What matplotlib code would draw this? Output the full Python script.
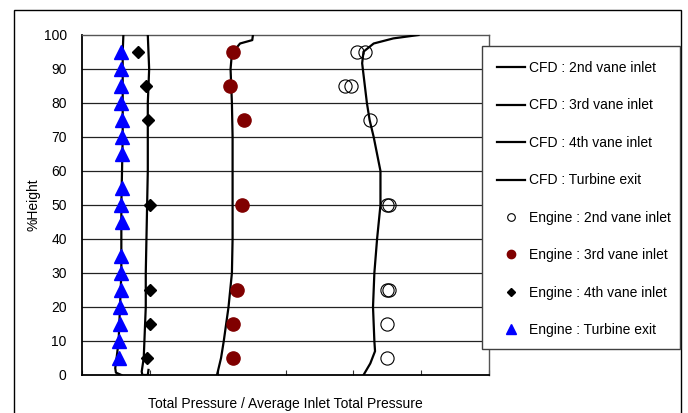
import matplotlib
matplotlib.use("Agg")
import matplotlib.pyplot as plt
from matplotlib.lines import Line2D
from matplotlib.patches import Rectangle

plt.rcParams['font.family'] = ['Liberation Sans', 'DejaVu Sans']

# ---- data (x: total pressure ratio, nominal scale; y: %height) ----
cfd2_x = [1.196, 1.159, 1.130, 1.115, 1.113, 1.114, 1.120, 1.124, 1.130, 1.140, 1.140,
          1.135, 1.131, 1.129, 1.131, 1.132, 1.125, 1.115]
cfd2_y = [100, 99.0, 97.5, 95.1, 91.7, 90, 80, 75, 70, 60, 50, 40, 30, 20, 10, 7, 3.4, 0]

cfd3_x = [0.952, 0.951, 0.933, 0.921, 0.919, 0.921, 0.922, 0.922, 0.922, 0.922, 0.921,
          0.916, 0.909, 0.905, 0.899]
cfd3_y = [100, 98.5, 97.5, 94.6, 90, 80, 70, 60, 50, 40, 30, 20, 10, 5, 0]

cfd4_x = [0.797, 0.798, 0.799, 0.798, 0.797, 0.797, 0.797, 0.796, 0.795, 0.794,
          0.794, 0.792, 0.791, 0.788, 0.789, 0.797, 0.798]
cfd4_y = [100, 95, 90, 85, 80, 70, 60, 50, 40, 30, 20, 10, 5, 1, 0, 0, 1.5]

cfdt_x = [0.761, 0.760, 0.760, 0.760, 0.760, 0.759, 0.758, 0.758, 0.758, 0.756,
          0.754, 0.751, 0.749, 0.750, 0.758]
cfdt_y = [100, 95, 90, 80, 70, 60, 50, 40, 30, 20, 10, 5, 2, 0.7, 0]

eng2_x = [1.105, 1.117, 1.088, 1.096, 1.124, 1.149, 1.153, 1.149, 1.152, 1.149, 1.149]
eng2_y = [95, 95, 85, 85, 75, 50, 50, 25, 25, 15, 5]

eng3_x = [0.923, 0.918, 0.939, 0.936, 0.928, 0.922, 0.922]
eng3_y = [95, 85, 75, 50, 25, 15, 5]

eng4_x = [0.783, 0.795, 0.798, 0.800, 0.800, 0.800, 0.796]
eng4_y = [95, 85, 75, 50, 25, 15, 5]

engt_x = [0.757, 0.757, 0.758, 0.758, 0.759, 0.759, 0.759, 0.759, 0.758, 0.759,
          0.757, 0.757, 0.757, 0.756, 0.756, 0.755, 0.755]
engt_y = [95, 90, 85, 80, 75, 70, 65, 55, 50, 45, 35, 30, 25, 20, 15, 10, 5]

legend_labels = ["CFD : 2nd vane inlet", "CFD : 3rd vane inlet", "CFD : 4th vane inlet",
                 "CFD : Turbine exit", "Engine : 2nd vane inlet", "Engine : 3rd vane inlet",
                 "Engine : 4th vane inlet", "Engine : Turbine exit"]
y_ticks = list(range(0, 101, 10))
x_ticks = [0.7, 0.8, 0.9, 1.0, 1.1, 1.2, 1.3]
xlabel = "Total Pressure / Average Inlet Total Pressure"
ylabel = "%Height"

# ---- figure ----
fig = plt.figure(figsize=(6.88, 4.13), dpi=100)
W, H = 688, 413
# outer chart border (left, top, right; bottom cut off)
fig.add_artist(Rectangle((14 / W, -0.05), (681 - 14) / W, (H - 10) / H + 0.05,
                         transform=fig.transFigure, fill=False, edgecolor='black',
                         linewidth=1.0, zorder=-1))

ax = fig.add_axes([82 / W, (H - 375) / H, (489 - 82) / W, (375 - 35) / H])
ax.set_xlim(0.7, 1.3)
ax.set_ylim(0, 100)

for y in y_ticks[1:-1]:
    ax.axhline(y, color='#222222', linewidth=0.9, zorder=1)

lw = 1.6
ax.plot(cfd2_x, cfd2_y, color='black', linewidth=lw, zorder=3)
ax.plot(cfd3_x, cfd3_y, color='black', linewidth=lw, zorder=3)
ax.plot(cfd4_x, cfd4_y, color='black', linewidth=lw, zorder=3)
ax.plot(cfdt_x, cfdt_y, color='black', linewidth=lw, zorder=3)

ax.plot(eng2_x, eng2_y, linestyle='none', marker='o', markersize=9.5,
        markerfacecolor='none', markeredgecolor='black', markeredgewidth=0.8, zorder=4)
ax.plot(eng3_x, eng3_y, linestyle='none', marker='o', markersize=9.5,
        markerfacecolor='#800000', markeredgecolor='#800000', zorder=4)
ax.plot(eng4_x, eng4_y, linestyle='none', marker='D', markersize=6.5,
        markerfacecolor='black', markeredgecolor='black', zorder=4)
ax.plot(engt_x, engt_y, linestyle='none', marker='^', markersize=10.5,
        markerfacecolor='#0000FF', markeredgecolor='#0000FF', zorder=4)

ax.set_xticks(x_ticks)
ax.set_xticklabels([])
ax.tick_params(axis='x', direction='in', length=3.5, width=0.8, color='#333333')
ax.set_yticks(y_ticks)
ax.tick_params(axis='y', length=0, pad=11, labelsize=10)

for s in ['left', 'bottom']:
    ax.spines[s].set_color('black')
    ax.spines[s].set_linewidth(1.3)
for s in ['top', 'right']:
    ax.spines[s].set_color('#555555')
    ax.spines[s].set_linewidth(1.0)

ax.set_xlabel(xlabel, fontsize=10, labelpad=12.5)
ax.set_ylabel(ylabel, fontsize=10, labelpad=2)

# legend frame drawn explicitly
fig.add_artist(Rectangle((482 / W, (H - 349) / H), (680 - 482) / W, (349 - 46) / H,
                         transform=fig.transFigure, facecolor='white', edgecolor='#404040',
                         linewidth=1.0, zorder=4))

handles = [Line2D([], [], color='black', linewidth=lw) for _ in range(4)]
handles += [
    Line2D([], [], linestyle='none', marker='o', markersize=5.5, markerfacecolor='white',
           markeredgecolor='black', markeredgewidth=0.8),
    Line2D([], [], linestyle='none', marker='o', markersize=6, markerfacecolor='#800000',
           markeredgecolor='#800000'),
    Line2D([], [], linestyle='none', marker='D', markersize=4.5, markerfacecolor='black',
           markeredgecolor='black'),
    Line2D([], [], linestyle='none', marker='^', markersize=6.5, markerfacecolor='#0000FF',
           markeredgecolor='#0000FF'),
]
leg = fig.legend(handles, legend_labels, loc='upper left',
                 bbox_to_anchor=(482 / W, (H - 46) / H), fontsize=10,
                 frameon=False, labelspacing=1.69, handlelength=2.05, handletextpad=0.25,
                 borderpad=1.08, borderaxespad=0)
leg.set_zorder(5)

fig.savefig("out.png", dpi=100)
